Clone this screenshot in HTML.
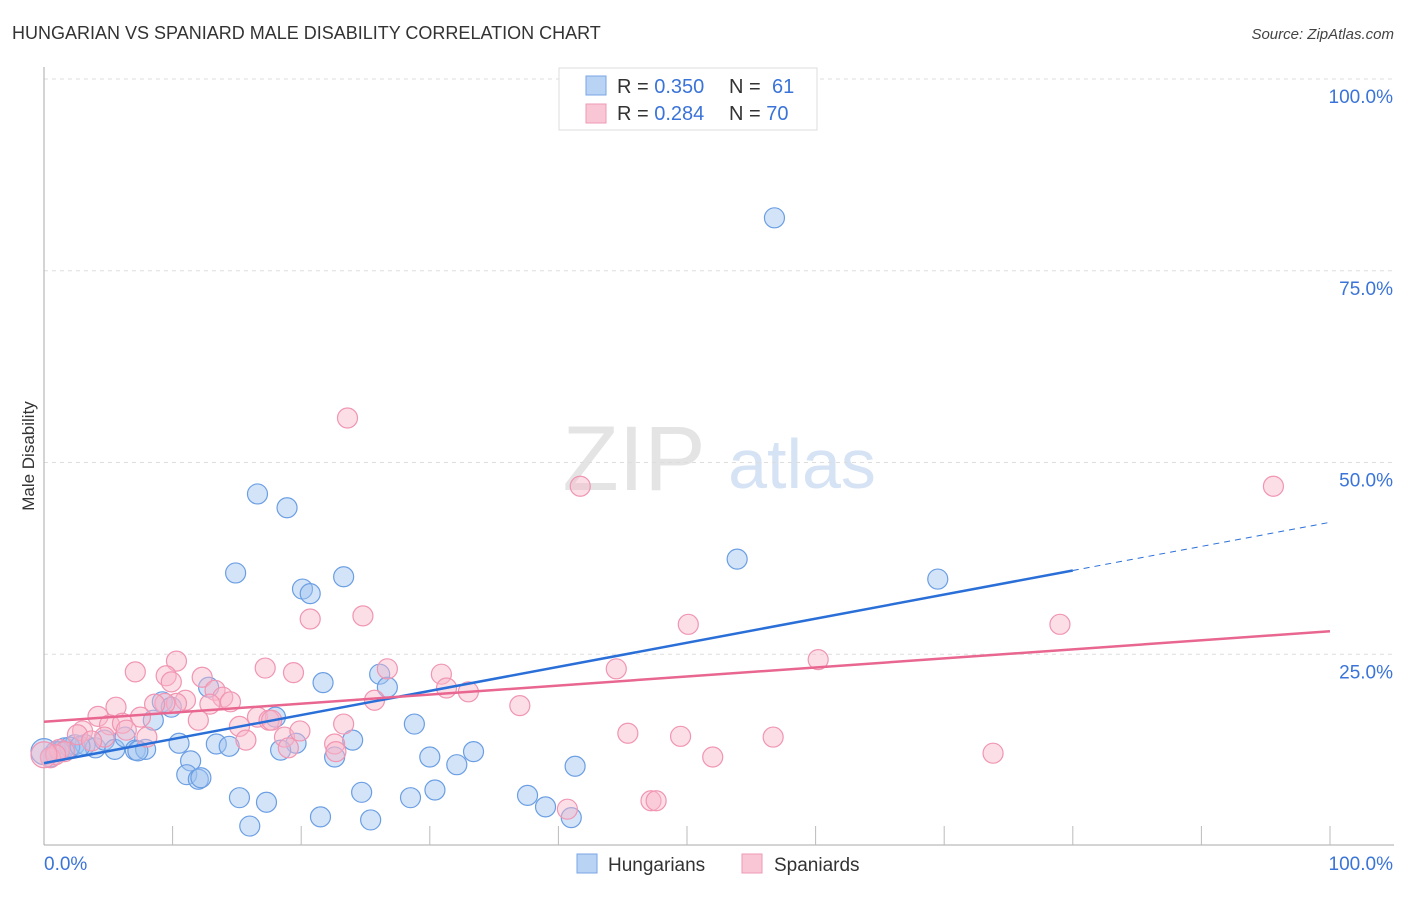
<!DOCTYPE html>
<html><head><meta charset="utf-8"><style>
body{margin:0;background:#fff;font-family:"Liberation Sans",sans-serif}
svg text{font-family:"Liberation Sans",sans-serif}
</style></head><body>
<svg id="c" width="1406" height="892">
<text x="12" y="39" font-size="18" fill="#333">HUNGARIAN VS SPANIARD MALE DISABILITY CORRELATION CHART</text>
<text x="1394" y="39" font-size="15" fill="#444" text-anchor="end" font-style="italic">Source: ZipAtlas.com</text>
<text transform="translate(34,456) rotate(-90)" font-size="17" fill="#333" text-anchor="middle">Male Disability</text>
<g>
<text x="634" y="490" font-size="92" fill="#e4e4e4" font-family="Liberation Serif,serif" text-anchor="middle">ZIP</text>
<text x="802" y="488" font-size="70" fill="#d6e3f5" text-anchor="middle">atlas</text>
</g>
<g id="grid"></g><g id="axes"></g><g id="pts"></g><g id="lines"></g>
<g>
<rect x="559" y="68" width="258" height="62" fill="#fff" stroke="#ddd"/>
<rect x="586" y="76" width="20" height="19" fill="#b9d3f5" stroke="#7aa6e4"/>
<rect x="586" y="104" width="20" height="19" fill="#f9c6d5" stroke="#ee9ab4"/>
<text x="617" y="93" font-size="20" fill="#333">R = <tspan fill="#3a74d8">0.350</tspan></text>
<text x="729" y="93" font-size="20" fill="#333">N = </text><text x="772" y="93" font-size="20" fill="#3a74d8">61</text>
<text x="617" y="120" font-size="20" fill="#333">R = <tspan fill="#3a74d8">0.284</tspan></text>
<text x="729" y="120" font-size="20" fill="#333">N = <tspan fill="#3a74d8">70</tspan></text>
</g>
<g>
<rect x="577" y="854" width="20" height="19" fill="#b9d3f5" stroke="#7aa6e4"/>
<text x="608" y="871" font-size="19" fill="#333">Hungarians</text>
<rect x="742" y="854" width="20" height="19" fill="#f9c6d5" stroke="#ee9ab4"/>
<text x="774" y="871" font-size="19" fill="#333">Spaniards</text>
</g>
</svg>
<script>
const yTicks=[100,75,50,25];
const xTickLabels=["0.0%","100.0%"];
const hunX=[56.8,16.6,18.9,14.9,20.1,20.7,23.3,53.9,69.5,21.7,26.1,26.7,12.8,9.2,9.9,8.5,28.8,18.0,10.5,13.4,14.4,19.6,24.0,18.4,22.6,30.0,33.4,32.1,41.3,11.4,11.1,12.0,12.2,15.2,17.3,24.7,28.5,30.4,37.6,39.0,41.0,21.5,25.4,16.0,0.9,1.6,2.4,3.2,4.0,4.7,5.5,6.3,7.1,7.9,0.5,1.2,7.3,2.0,2.8,0];
const hunY=[81.9,45.9,44.1,35.6,33.5,32.9,35.1,37.4,34.8,21.3,22.4,20.7,20.7,18.8,18.1,16.4,15.9,16.8,13.4,13.3,13.0,13.4,13.8,12.5,11.6,11.6,12.3,10.6,10.4,11.1,9.3,8.7,8.9,6.3,5.7,7.0,6.3,7.3,6.6,5.1,3.7,3.8,3.4,2.6,12.3,12.8,13.2,13.2,12.8,13.8,12.6,14.2,12.5,12.6,11.6,12.3,12.4,12.9,13.0,12.3];
const spaX=[23.6,41.7,95.6,20.7,24.8,50.1,79.0,60.2,44.5,10.3,7.1,9.5,9.9,12.3,17.2,19.4,13.3,13.9,14.5,11.0,10.3,9.4,8.6,5.6,4.2,7.5,5.1,6.1,3.0,2.6,12.0,12.9,15.2,16.6,17.5,18.7,19.9,17.7,15.7,23.3,26.7,30.9,31.3,33.0,25.7,37.0,45.4,49.5,52.0,56.7,73.8,22.6,22.7,19.0,40.7,47.2,47.6,8.0,6.4,4.7,1.2,1.6,0.5,0.9,3.7,0];
const spaY=[55.8,46.9,46.9,29.6,30.0,28.9,28.9,24.3,23.1,24.1,22.7,22.2,21.4,22.0,23.2,22.6,20.3,19.4,18.8,19.0,18.6,18.6,18.5,18.1,16.9,16.8,15.8,16.0,15.0,14.5,16.4,18.5,15.6,16.8,16.4,14.2,15.0,16.4,13.8,15.9,23.1,22.4,20.6,20.1,19.0,18.3,14.7,14.3,11.6,14.2,12.1,13.3,12.3,12.8,4.8,5.9,5.9,14.2,15.1,14.2,12.6,12.3,11.5,11.9,13.7,11.9];
const hunTrend=[10.8,0.314]; const spaTrend=[16.2,0.118];
const X0=44,X1=1330,Y0=846,Y100=79;
const sx=v=>X0+(X1-X0)*v/100, sy=v=>Y0-(Y0-Y100)*v/100;
const NS="http://www.w3.org/2000/svg";
function mk(p,t,a){const e=document.createElementNS(NS,t);for(const k in a)e.setAttribute(k,a[k]);p.appendChild(e);return e;}
const grid=document.getElementById('grid'),axes=document.getElementById('axes'),pts=document.getElementById('pts'),lines=document.getElementById('lines');
yTicks.forEach(v=>{
 const l=mk(grid,'line',{x1:X0,x2:1394,y1:sy(v),y2:sy(v),stroke:'#ddd','stroke-dasharray':'4,4'});
 
 
 const t=mk(axes,'text',{x:1393,y:sy(v)+24,'font-size':19,fill:'#3a74d8','text-anchor':'end'});t.textContent=v.toFixed(1)+'%';
 
 
});
let a=mk(axes,'line',{x1:X0,x2:X0,y1:67,y2:845,stroke:'#aaa'});


a=mk(axes,'line',{x1:X0,x2:1394,y1:845,y2:845,stroke:'#aaa'});


for(let i=1;i<=10;i++){const t=mk(axes,'line',{x1:sx(i*10),x2:sx(i*10),y1:826,y2:845,stroke:'#bbb'});
 
 }
[[0,'start',44],[1,'end',1393]].forEach(([i,an,x])=>{const t=mk(axes,'text',{x:x,y:870,'font-size':19,fill:'#3a74d8','text-anchor':an});t.textContent=xTickLabels[i];
 
 });
function draw(xs,ys,fill,stroke,name){xs.forEach((x,i)=>{const big=(x===0);
 const c=mk(pts,'circle',{cx:sx(x),cy:sy(ys[i]),r:big?13:10,fill:fill,stroke:stroke,'stroke-width':1.2});
 
 });}
draw(hunX,hunY,'rgba(160,196,240,0.45)','#6a9ee3','point-hungarian');
draw(spaX,spaY,'rgba(248,182,202,0.45)','#f095b2','point-spaniard');
let l=mk(lines,'line',{x1:sx(0),y1:sy(hunTrend[0]),x2:sx(80),y2:sy(hunTrend[0]+hunTrend[1]*80),stroke:'#2a6fd8','stroke-width':2.5});


l=mk(lines,'line',{x1:sx(80),y1:sy(hunTrend[0]+hunTrend[1]*80),x2:sx(100),y2:sy(hunTrend[0]+hunTrend[1]*100),stroke:'#2a6fd8','stroke-width':1,'stroke-dasharray':'6,5'});


l=mk(lines,'line',{x1:sx(0),y1:sy(spaTrend[0]),x2:sx(100),y2:sy(spaTrend[0]+spaTrend[1]*100),stroke:'#e8668f','stroke-width':2.5});


</script>
</body></html>
